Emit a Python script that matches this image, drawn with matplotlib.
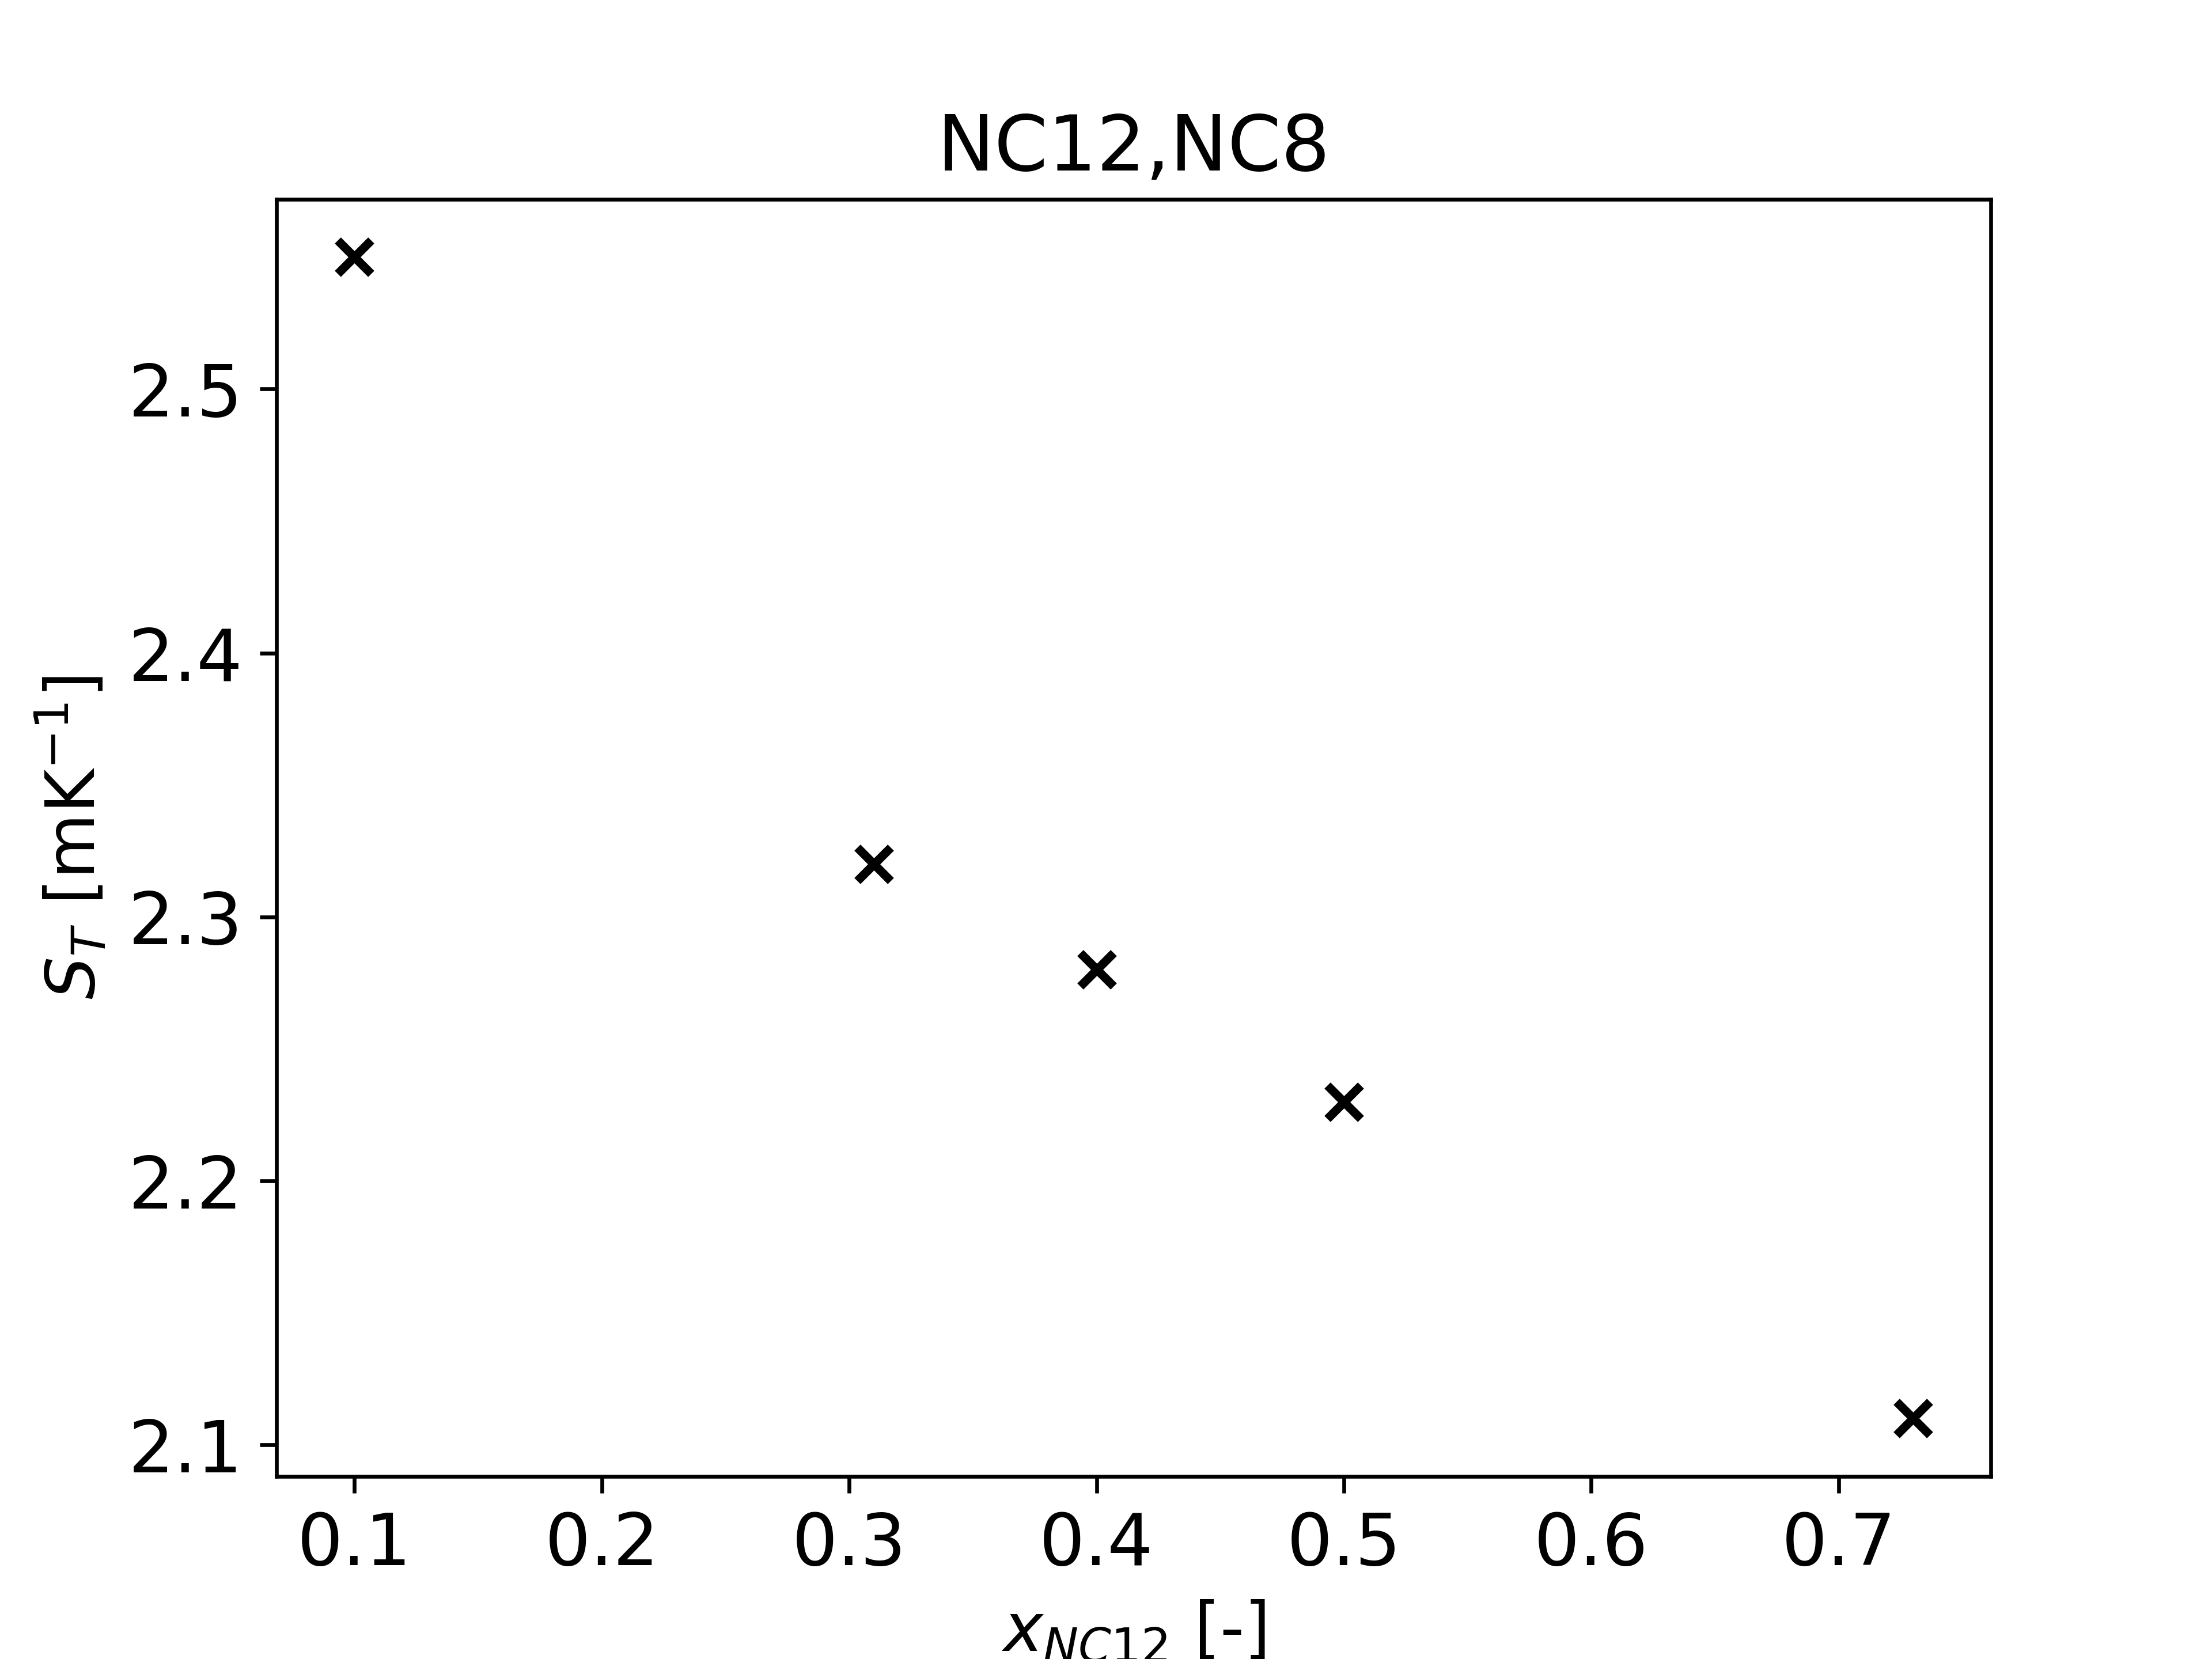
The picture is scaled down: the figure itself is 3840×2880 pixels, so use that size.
import matplotlib
matplotlib.use('Agg')
import matplotlib.pyplot as plt

# composition of NC12 and measured Soret coefficient
x_nc12 = [0.10, 0.31, 0.40, 0.50, 0.73]
s_t = [2.55, 2.32, 2.28, 2.23, 2.11]

fig, ax = plt.subplots(figsize=(6.4, 4.8), dpi=600)
ax.plot(x_nc12, s_t, 'x', color='black', markersize=7, markeredgewidth=1.8)

ax.set_title("NC12,NC8", fontsize=16)
ax.set_xlabel(r"$x_{NC12}$ [-]", fontsize=14)
ax.set_ylabel(r"$S_T$ [mK$^{-1}$]", fontsize=14)
ax.tick_params(labelsize=15)

fig.savefig('out.png', dpi=600)
